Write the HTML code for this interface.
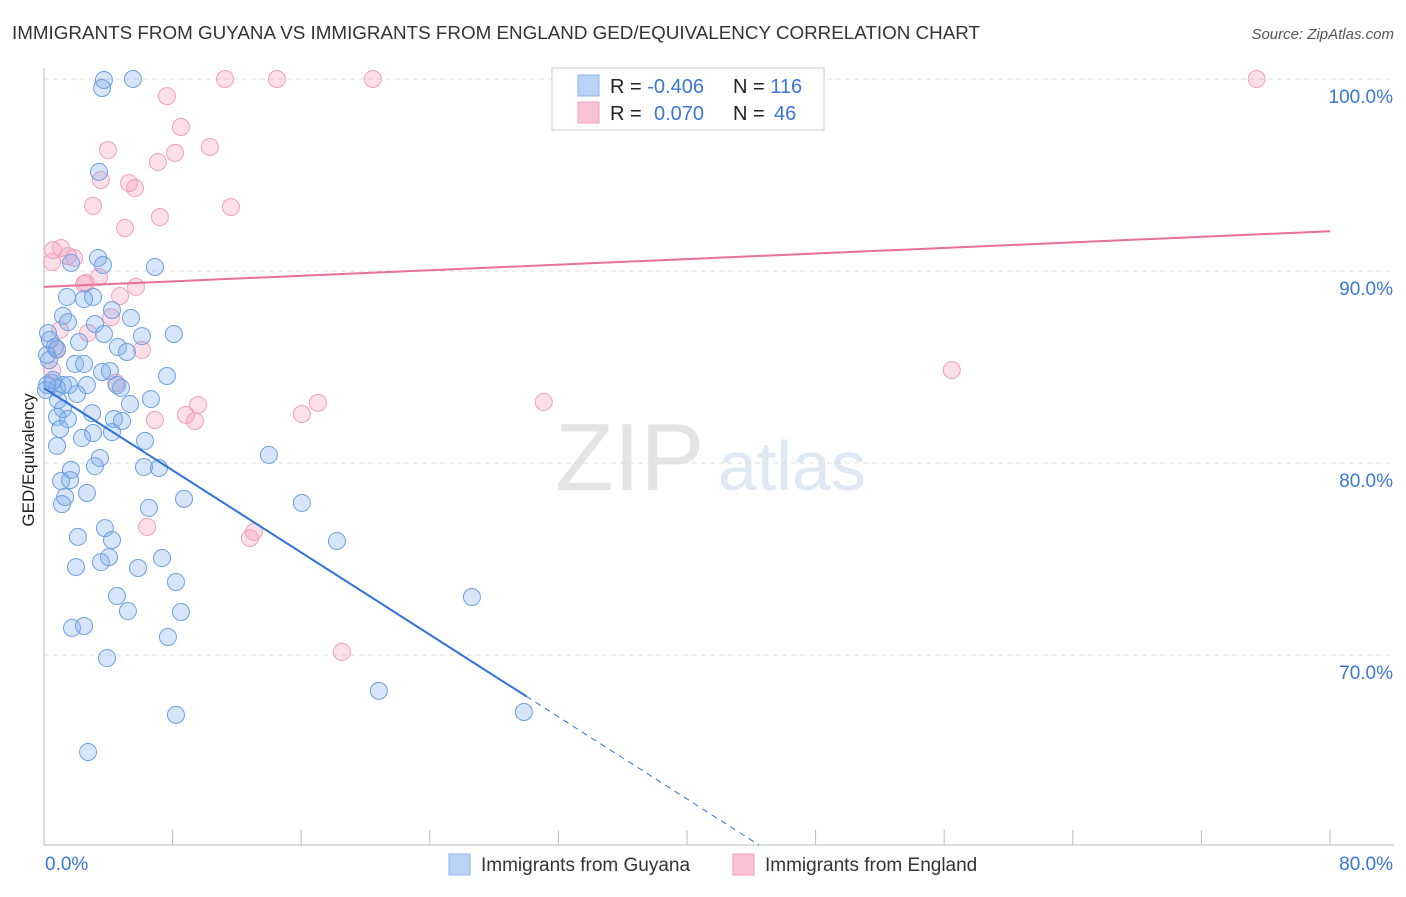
<!DOCTYPE html>
<html><head><meta charset="utf-8"><style>
body{margin:0;background:#fff;font-family:"Liberation Sans",sans-serif;}
svg text{font-family:"Liberation Sans",sans-serif;}
</style></head><body>
<svg id="chart" width="1406" height="892" xmlns="http://www.w3.org/2000/svg">
<text x="12" y="39" font-size="18" fill="#333" textLength="968" lengthAdjust="spacingAndGlyphs">IMMIGRANTS FROM GUYANA VS IMMIGRANTS FROM ENGLAND GED/EQUIVALENCY CORRELATION CHART</text>
<text x="1394" y="39" font-size="15" fill="#555" font-style="italic" text-anchor="end">Source: ZipAtlas.com</text>
<text x="34" y="460" font-size="17" fill="#222" text-anchor="middle" transform="rotate(-90 34 460)">GED/Equivalency</text>
<text x="555" y="490" font-size="96" fill="#e4e4e4" font-family="Liberation Serif">ZIP</text>
<text x="718" y="490" font-size="70" fill="#dfe8f5">atlas</text>
<g id="grid"></g><g id="pts"></g><g id="trend"></g>
<g>
<rect x="552" y="68" width="272" height="62" fill="#fff" stroke="#ccc"/>
<rect x="578" y="75" width="21" height="21" fill="#b9d3f7" stroke="#8fb4e8"/>
<rect x="578" y="102" width="21" height="21" fill="#f9c3d3" stroke="#f0a0b8"/>
<text x="610" y="93" font-size="20" fill="#222">R = <tspan fill="#3a76d6">-0.406</tspan></text>
<text x="733" y="93" font-size="20" fill="#222">N = <tspan fill="#3a76d6">116</tspan></text>
<text x="610" y="120" font-size="20" fill="#222">R = <tspan fill="#3a76d6" x="654">0.070</tspan></text>
<text x="733" y="120" font-size="20" fill="#222">N = <tspan fill="#3a76d6" x="774">46</tspan></text>
</g>
<g>
<rect x="449" y="854" width="21" height="21" fill="#b9d3f7" stroke="#8fb4e8"/>
<text x="481" y="871" font-size="19" fill="#333">Immigrants from Guyana</text>
<rect x="733" y="854" width="21" height="21" fill="#f9c3d3" stroke="#f0a0b8"/>
<text x="765" y="871" font-size="19" fill="#333">Immigrants from England</text>
</g>
</svg>
<script>
const yTicks=[100,90,80,70];
const xTickLabels=["0.0%","80.0%"];
const blueX=[3.73,5.53,3.61,3.42,6.90,1.68,3.36,3.67,1.43,3.05,2.49,4.23,5.41,1.18,1.49,3.17,8.08,6.09,3.73,2.18,0.25,0.37,0.68,0.19,0.81,4.60,5.16,1.93,2.49,3.61,4.10,7.65,4.79,0.50,0.81,1.18,1.55,2.67,2.05,4.54,6.65,5.35,1.18,2.99,0.81,1.49,4.35,4.85,1.00,3.05,2.36,4.23,6.28,0.81,3.48,6.22,7.15,3.17,13.99,1.68,1.62,1.06,2.67,1.31,1.12,8.71,6.53,16.04,3.79,4.23,2.11,18.22,4.04,7.34,3.54,1.99,5.85,8.21,4.54,5.22,8.52,2.49,1.74,7.71,3.92,26.62,20.83,8.21,29.85,2.74,0.12,0.19,0.56,0.31,0.87];
const blueY=[99.95,100,99.53,95.16,90.21,90.42,90.68,90.31,88.65,88.65,88.54,87.97,87.55,87.66,87.34,87.24,86.72,86.61,86.72,86.30,86.77,86.41,86.04,85.63,85.94,86.04,85.78,85.16,85.16,84.74,84.79,84.53,83.91,84.17,83.91,84.06,84.06,84.06,83.59,84.06,83.33,83.07,82.81,82.60,82.40,82.29,82.29,82.19,81.77,81.56,81.30,81.61,81.15,80.89,80.26,79.79,79.74,79.84,80.42,79.64,79.11,79.06,78.44,78.23,77.86,78.13,77.66,77.92,76.61,75.99,76.15,75.94,75.10,75.05,74.84,74.58,74.53,73.80,73.07,72.29,72.24,71.51,71.41,70.94,69.84,73.02,68.13,66.88,67.03,64.95,83.80,84.06,84.32,85.36,83.28];
const pinkX=[11.26,14.49,20.46,32.90,75.44,7.65,8.52,10.32,3.98,8.15,7.09,3.54,5.29,5.66,3.05,7.21,11.63,5.04,0.56,1.06,0.50,1.49,1.87,3.42,2.49,5.72,4.73,4.17,2.74,6.09,0.81,0.50,4.48,31.09,17.04,9.58,8.83,9.39,6.90,16.04,56.47,6.41,13.06,12.81,18.53,1.00,2.61];
const pinkY=[100,100,100,100,100,99.11,97.5,96.46,96.30,96.15,95.68,94.74,94.58,94.32,93.39,92.81,93.33,92.24,91.09,91.20,90.47,90.78,90.68,89.69,89.32,89.17,88.70,87.60,86.77,85.89,85.89,84.84,84.17,83.18,83.13,83.02,82.50,82.19,82.24,82.55,84.84,76.67,76.41,76.09,70.16,86.93,89.38];
const blueTrend=[83.9,-0.535];
const pinkTrend=[89.17,92.07];
const NS="http://www.w3.org/2000/svg";
const X=v=>44+v*16.075, Y=v=>79+(100-v)*19.2;
function mk(t,a,p){const e=document.createElementNS(NS,t);for(const k in a)e.setAttribute(k,a[k]);p.appendChild(e);return e;}
const grid=document.getElementById('grid');
yTicks.forEach(t=>{
 const l=mk('line',{x1:44,x2:1394,y1:Y(t),y2:Y(t),stroke:'#ddd','stroke-dasharray':'5,4'},grid);
 
 
 const tx=mk('text',{x:1393,y:Y(t)+24,'font-size':19,fill:'#3a76d6','text-anchor':'end'},grid);tx.textContent=t.toFixed(1)+'%';
 
 
});
const ax=mk('line',{x1:44,x2:44,y1:68,y2:845,stroke:'#bbb'},grid);


const bx=mk('line',{x1:44,x2:1394,y1:845,y2:845,stroke:'#bbb'},grid);


for(let i=0;i<=10;i++){const t=mk('line',{x1:X(i*8),x2:X(i*8),y1:830,y2:845,stroke:'#bbb'},grid);
 
 }
[[0,'start',45],[80,'end',1393]].forEach((d,i)=>{const t=mk('text',{x:d[2],y:870,'font-size':19,fill:'#3a76d6','text-anchor':d[1]},grid);t.textContent=xTickLabels[i];
 
 });
const pts=document.getElementById('pts');
pinkX.forEach((x,i)=>{const c=mk('circle',{cx:X(x),cy:Y(pinkY[i]),r:8.5,fill:'rgba(244,150,180,0.3)',stroke:'#f0a0bc','stroke-width':1},pts);
 
 });
blueX.forEach((x,i)=>{const c=mk('circle',{cx:X(x),cy:Y(blueY[i]),r:8.5,fill:'rgba(120,170,235,0.3)',stroke:'#6e9fe0','stroke-width':1},pts);
 
 });
const tr=document.getElementById('trend');
const bEnd=(blueTrend[0]-60.1)/(-blueTrend[1]);
const l1=mk('line',{x1:X(0),y1:Y(blueTrend[0]),x2:X(30),y2:Y(blueTrend[0]+blueTrend[1]*30),stroke:'#2f72d8','stroke-width':2},tr);


const l2=mk('line',{x1:X(30),y1:Y(blueTrend[0]+blueTrend[1]*30),x2:X(bEnd),y2:Y(60.1),stroke:'#2f72d8','stroke-width':1,'stroke-dasharray':'6,5'},tr);


const l3=mk('line',{x1:X(0),y1:Y(pinkTrend[0]),x2:X(80),y2:Y(pinkTrend[1]),stroke:'#e8709a','stroke-width':2},tr);


</script>
</body></html>
